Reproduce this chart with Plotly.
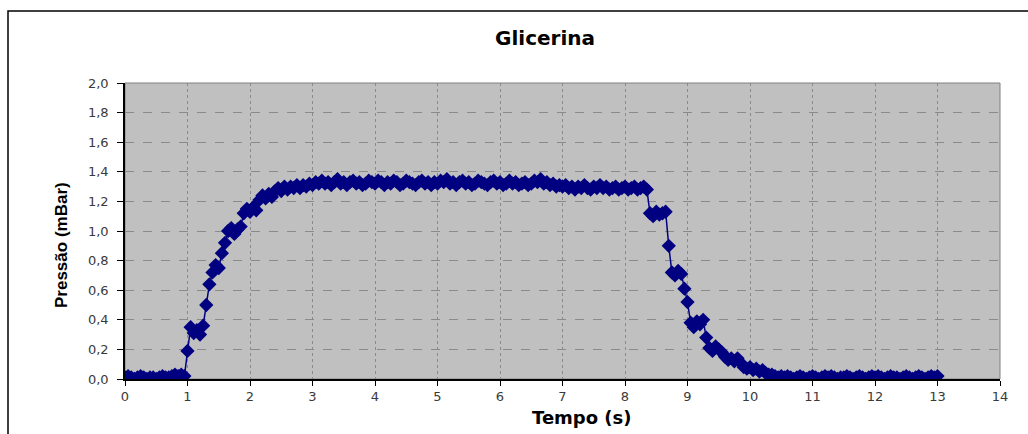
import plotly.graph_objects as go

# Time (s)
tempo = [
    0.00, 0.05, 0.10, 0.15, 0.20, 0.25, 0.30, 0.35, 0.40, 0.45, 0.50, 0.55, 0.60, 0.65, 0.70, 0.75, 0.80, 0.85, 0.90, 0.95,
    1.00, 1.05, 1.10, 1.15, 1.20, 1.25, 1.30, 1.35, 1.40, 1.45, 1.50, 1.55, 1.60, 1.65, 1.70, 1.75, 1.80, 1.85, 1.90, 1.95,
    2.00, 2.05, 2.10, 2.15, 2.20, 2.25, 2.30, 2.35, 2.40, 2.45, 2.50, 2.55, 2.60, 2.65, 2.70, 2.75, 2.80, 2.85, 2.90, 2.95,
    3.00, 3.05, 3.10, 3.15, 3.20, 3.25, 3.30, 3.35, 3.40, 3.45, 3.50, 3.55, 3.60, 3.65, 3.70, 3.75, 3.80, 3.85, 3.90, 3.95,
    4.00, 4.05, 4.10, 4.15, 4.20, 4.25, 4.30, 4.35, 4.40, 4.45, 4.50, 4.55, 4.60, 4.65, 4.70, 4.75, 4.80, 4.85, 4.90, 4.95,
    5.00, 5.05, 5.10, 5.15, 5.20, 5.25, 5.30, 5.35, 5.40, 5.45, 5.50, 5.55, 5.60, 5.65, 5.70, 5.75, 5.80, 5.85, 5.90, 5.95,
    6.00, 6.05, 6.10, 6.15, 6.20, 6.25, 6.30, 6.35, 6.40, 6.45, 6.50, 6.55, 6.60, 6.65, 6.70, 6.75, 6.80, 6.85, 6.90, 6.95,
    7.00, 7.05, 7.10, 7.15, 7.20, 7.25, 7.30, 7.35, 7.40, 7.45, 7.50, 7.55, 7.60, 7.65, 7.70, 7.75, 7.80, 7.85, 7.90, 7.95,
    8.00, 8.05, 8.10, 8.15, 8.20, 8.25, 8.30, 8.35, 8.40, 8.45, 8.50, 8.55, 8.60, 8.65, 8.70, 8.75, 8.80, 8.85, 8.90, 8.95,
    9.00, 9.05, 9.10, 9.15, 9.20, 9.25, 9.30, 9.35, 9.40, 9.45, 9.50, 9.55, 9.60, 9.65, 9.70, 9.75, 9.80, 9.85, 9.90, 9.95,
    10.00, 10.05, 10.10, 10.15, 10.20, 10.25, 10.30, 10.35, 10.40, 10.45, 10.50, 10.55, 10.60, 10.65, 10.70, 10.75, 10.80, 10.85, 10.90, 10.95,
    11.00, 11.05, 11.10, 11.15, 11.20, 11.25, 11.30, 11.35, 11.40, 11.45, 11.50, 11.55, 11.60, 11.65, 11.70, 11.75, 11.80, 11.85, 11.90, 11.95,
    12.00, 12.05, 12.10, 12.15, 12.20, 12.25, 12.30, 12.35, 12.40, 12.45, 12.50, 12.55, 12.60, 12.65, 12.70, 12.75, 12.80, 12.85, 12.90, 12.95,
    13.00,
]

# Pressure (mBar)
pressao = [
    0.01, 0.02, 0.01, 0.00, 0.01, 0.02, 0.01, 0.00, 0.01, 0.01, 0.00, 0.01, 0.02, 0.01, 0.01, 0.02, 0.03, 0.02, 0.03, 0.02,
    0.19, 0.35, 0.31, 0.33, 0.30, 0.36, 0.50, 0.64, 0.72, 0.77, 0.75, 0.85, 0.92, 1.00, 1.02, 0.98, 1.01, 1.03, 1.12, 1.15,
    1.13, 1.16, 1.14, 1.21, 1.24, 1.22, 1.25, 1.23, 1.27, 1.29, 1.27, 1.30, 1.28, 1.30, 1.29, 1.31, 1.29, 1.31, 1.30, 1.32,
    1.31, 1.33, 1.32, 1.34, 1.32, 1.33, 1.31, 1.33, 1.35, 1.32, 1.33, 1.31, 1.33, 1.34, 1.32, 1.33, 1.31, 1.32, 1.34, 1.33,
    1.32, 1.34, 1.33, 1.31, 1.33, 1.32, 1.34, 1.33, 1.31, 1.32, 1.34, 1.33, 1.32, 1.31, 1.33, 1.34, 1.32, 1.33, 1.31, 1.33,
    1.32, 1.34, 1.33, 1.35, 1.32, 1.33, 1.31, 1.33, 1.34, 1.32, 1.33, 1.31, 1.32, 1.34, 1.33, 1.32, 1.31, 1.33, 1.34, 1.32,
    1.33, 1.31, 1.32, 1.34, 1.32, 1.33, 1.31, 1.32, 1.33, 1.31, 1.32, 1.34, 1.33, 1.35, 1.32, 1.33, 1.31, 1.32, 1.30, 1.31,
    1.30, 1.31, 1.29, 1.30, 1.28, 1.30, 1.29, 1.31, 1.29, 1.28, 1.30, 1.29, 1.31, 1.29, 1.30, 1.28, 1.29, 1.30, 1.28, 1.29,
    1.30, 1.28, 1.29, 1.30, 1.28, 1.29, 1.30, 1.28, 1.12, 1.10, 1.13, 1.11, 1.12, 1.13, 0.90, 0.72, 0.70, 0.73, 0.71, 0.61,
    0.52, 0.38, 0.35, 0.39, 0.37, 0.40, 0.28, 0.21, 0.19, 0.22, 0.20, 0.18, 0.15, 0.13, 0.14, 0.12, 0.14, 0.11, 0.08, 0.07,
    0.08, 0.06, 0.07, 0.05, 0.06, 0.04, 0.03, 0.03, 0.02, 0.01, 0.02, 0.01, 0.02, 0.01, 0.00, 0.01, 0.02, 0.01, 0.00, 0.01,
    0.02, 0.01, 0.00, 0.01, 0.02, 0.01, 0.02, 0.01, 0.00, 0.01, 0.01, 0.02, 0.01, 0.00, 0.01, 0.02, 0.01, 0.00, 0.01, 0.02,
    0.01, 0.02, 0.01, 0.00, 0.01, 0.02, 0.01, 0.01, 0.00, 0.01, 0.02, 0.01, 0.00, 0.01, 0.02, 0.01, 0.00, 0.01, 0.02, 0.01,
    0.02,
]

titulo = "Glicerina"
titulo_x = "Tempo (s)"
titulo_y = "Pressão (mBar)"

NAVY = "#000080"

fig = go.Figure()
fig.add_trace(go.Scatter(
    x=tempo, y=pressao, mode="lines+markers",
    line=dict(color=NAVY, width=1.5),
    marker=dict(symbol="diamond", size=11, color=NAVY, line=dict(width=0)),
    showlegend=False, hoverinfo="x+y",
))

W, H = 1028, 434
L, R, T, B = 125, 28, 83, 55
pw, ph = W - L - R, H - T - B

def px2x(px):
    return (px - L) / pw

def py2y(py):
    return (H - B - py) / ph

tickfont = dict(family="DejaVu Sans, Arial, sans-serif", size=13, color="#3a3a3a")

fig.update_layout(
    width=W, height=H,
    margin=dict(l=L, r=R, t=T, b=B),
    paper_bgcolor="white",
    plot_bgcolor="#C0C0C0",
    separators=",.",
    xaxis=dict(
        range=[0, 14], dtick=1, tick0=0,
        showgrid=True, gridcolor="#8a8a8a", gridwidth=1, griddash="dot",
        showline=True, linecolor="black", linewidth=1.5,
        ticks="outside", ticklen=5, tickcolor="black", tickwidth=1,
        tickfont=tickfont, zeroline=False, fixedrange=True,
    ),
    yaxis=dict(
        range=[0, 2.0], dtick=0.2, tick0=0, tickformat=".1f",
        showgrid=True, gridcolor="#8a8a8a", gridwidth=1, griddash="dash",
        showline=True, linecolor="black", linewidth=1.5,
        ticks="outside", ticklen=6, tickcolor="black", tickwidth=1,
        tickfont=tickfont, zeroline=False, fixedrange=True,
        ticklabelstandoff=6,
    ),
    shapes=[
        # plot area frame (top/right gray)
        dict(type="rect", xref="paper", yref="paper", x0=0, y0=0, x1=1, y1=1,
             line=dict(color="#808080", width=1), layer="below"),
        # outer chart border
        dict(type="rect", xref="paper", yref="paper",
             x0=px2x(8), y0=py2y(440), x1=px2x(1040), y1=py2y(11),
             line=dict(color="black", width=1.5)),
    ],
    annotations=[
        dict(text=titulo, xref="paper", yref="paper", x=px2x(545), y=py2y(38),
             xanchor="center", yanchor="middle", showarrow=False,
             font=dict(family="DejaVu Sans, Arial, sans-serif", size=20, color="black", weight="bold")),
        dict(text=titulo_x, xref="paper", yref="paper", x=px2x(582), y=py2y(417),
             xanchor="center", yanchor="middle", showarrow=False,
             font=dict(family="DejaVu Sans, Arial, sans-serif", size=18, color="black", weight="bold")),
        dict(text=titulo_y, xref="paper", yref="paper", x=px2x(61), y=py2y(245),
             xanchor="center", yanchor="middle", showarrow=False, textangle=-90,
             font=dict(family="Liberation Sans, Arial, sans-serif", size=17, color="black", weight="bold")),
    ],
)

fig.write_html("out.html", config={"displayModeBar": False})
